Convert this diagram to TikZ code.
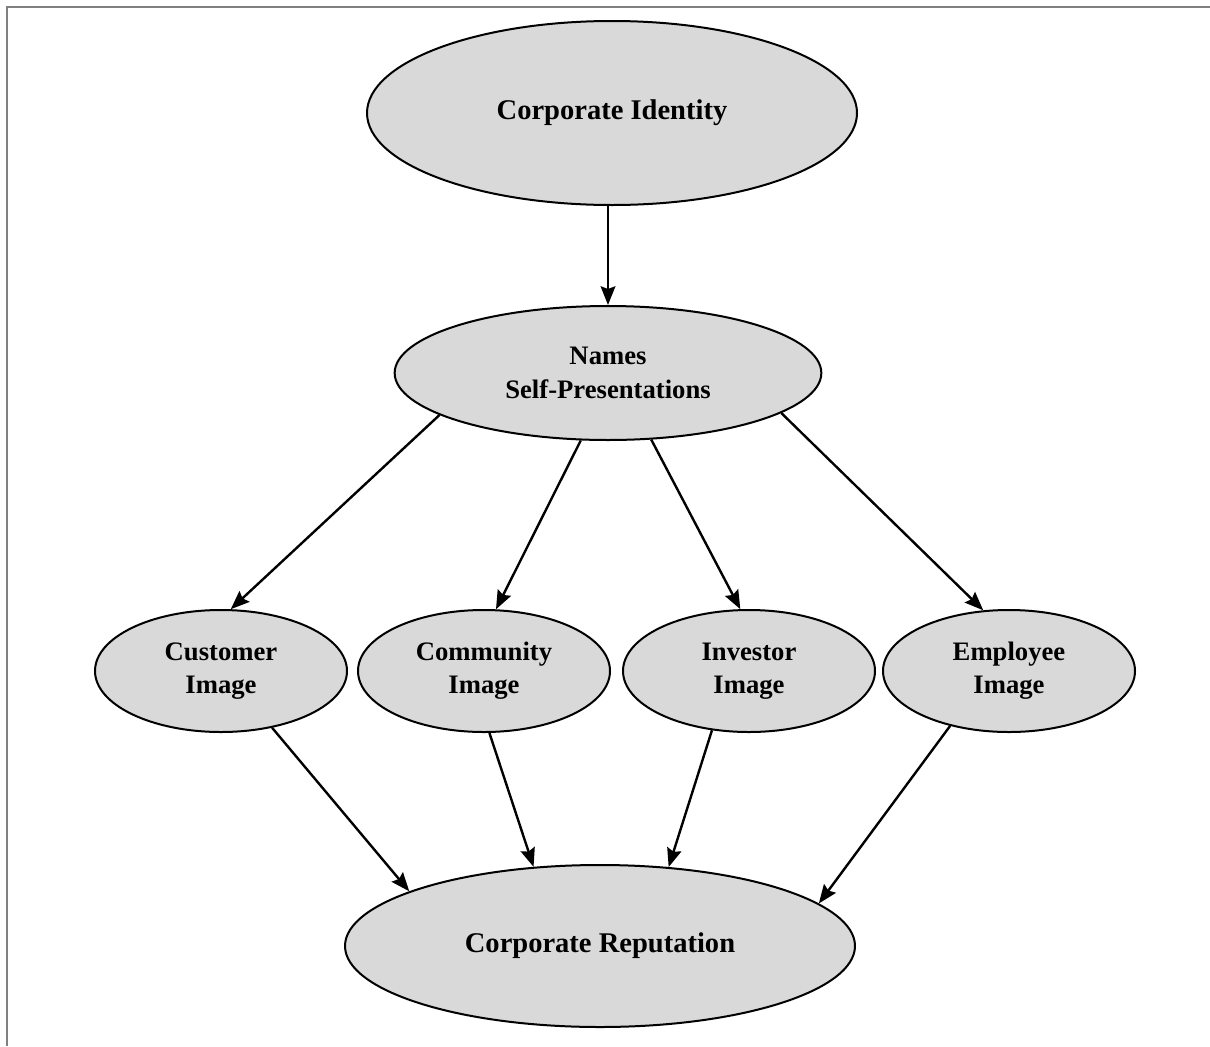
\documentclass[tikz,border=0pt]{standalone}
\usepackage{fontspec}
\setmainfont{Liberation Serif}
\usetikzlibrary{shapes.geometric,arrows.meta}

\tikzset{
  oval/.style={ellipse, draw=black, line width=1.5pt, fill=black!15,
               inner sep=0pt, align=center, text=black, font=\bfseries},
  bigtext/.style={font=\bfseries\fontsize{21.4}{25.5}\selectfont},
  smalltext/.style={font=\bfseries\fontsize{20}{25}\selectfont},
  link/.style={line width=1.8pt, -{Stealth[length=14pt,width=11pt,inset=2pt]}},
  frameline/.style={draw=black!50, line width=1.5pt}
}

\begin{document}
\begin{tikzpicture}[x=0.75pt, y=-0.75pt]
  \useasboundingbox (0,0) rectangle (1210,1046);

  % outer frame (top and left rules)
  \draw[frameline] (6.5,1046) -- (6.5,6.5) -- (1210,6.5);

  % top: identity and its self-presentations
  \node[oval, bigtext, minimum width=367.5pt, minimum height=138pt] (ident) at (612,113) {Corporate Identity};
  \node[oval, smalltext, minimum width=320pt, minimum height=100.5pt] (names) at (608,373) {Names\\Self-Presentations};

  % the four stakeholder images
  \node[oval, smalltext, minimum width=189pt, minimum height=91.5pt] (cust) at (221,671) {Customer\\Image};
  \node[oval, smalltext, minimum width=189pt, minimum height=91.5pt] (comm) at (484,671) {Community\\Image};
  \node[oval, smalltext, minimum width=189pt, minimum height=91.5pt] (inv)  at (749,671) {Investor\\Image};
  \node[oval, smalltext, minimum width=189pt, minimum height=91.5pt] (empl) at (1009,671) {Employee\\Image};

  % bottom: reputation
  \node[oval, bigtext, minimum width=382.5pt, minimum height=121.5pt] (rep) at (600,946) {Corporate Reputation};

  % connectors
  \draw[link] (ident.south -| names.north) -- (names.north);
  \draw[link] (names.194.8) -- (cust.81.6);
  \draw[link] (names.248.8) -- (comm.79.8);
  \draw[link] (names.303.9) -- (inv.98.5);
  \draw[link] (names.347.4) -- (empl.113.4);
  \draw[link] (cust.312) -- (rep.164.3);
  \draw[link] (comm.275.6) -- (rep.130);
  \draw[link] (inv.238.8)  -- (rep.49.6);
  \draw[link] (empl.223) -- (rep.11.2);
\end{tikzpicture}
\end{document}
